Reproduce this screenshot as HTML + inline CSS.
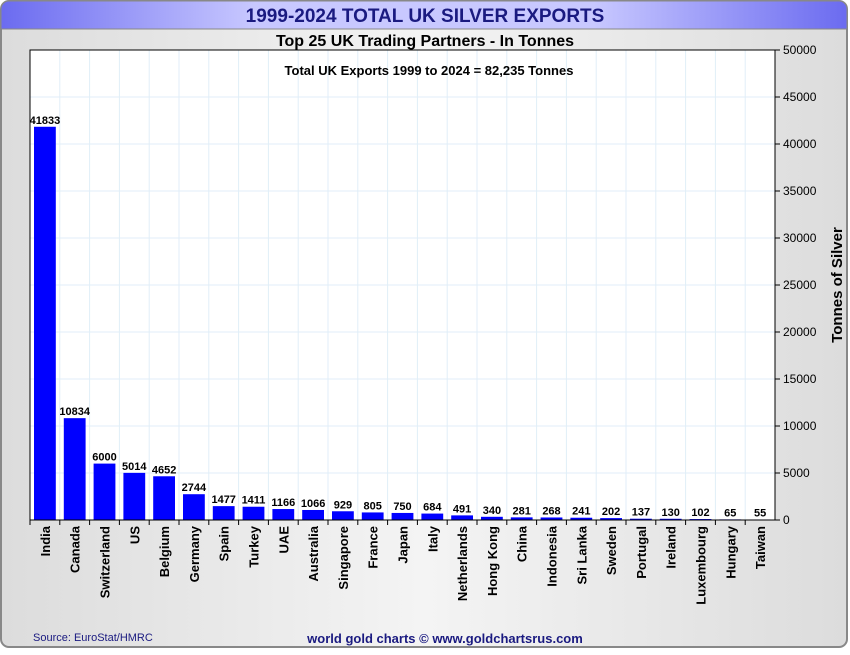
<!DOCTYPE html>
<html><head><meta charset="utf-8"><style>
body{margin:0;width:850px;height:650px;overflow:hidden;background:#fff;font-family:"Liberation Sans",sans-serif}
</style></head><body>
<svg id="c" width="850" height="650" xmlns="http://www.w3.org/2000/svg">
<defs>
<linearGradient id="tg" x1="0" x2="1" y1="0" y2="0">
<stop offset="0" stop-color="#6b6bf0"/><stop offset="0.3" stop-color="#c8c8ff"/><stop offset="0.7" stop-color="#c8c8ff"/><stop offset="1" stop-color="#6b6bf0"/></linearGradient>
<linearGradient id="bg" x1="0" x2="1" y1="0" y2="0">
<stop offset="0" stop-color="#dcdcdc"/><stop offset="0.5" stop-color="#f4f4f4"/><stop offset="1" stop-color="#dcdcdc"/></linearGradient>
</defs>
<rect x="1" y="1" width="846" height="646" rx="8" fill="url(#bg)" stroke="#888" stroke-width="2"/>
<path d="M1,29 V9 A8,8 0 0 1 9,1 H839 A8,8 0 0 1 847,9 V29 Z" fill="url(#tg)" stroke="#888"/>
<text x="425" y="22" text-anchor="middle" font-size="19" font-weight="bold" fill="#1a1a80">1999-2024 TOTAL UK SILVER EXPORTS</text>
<text x="425" y="46" text-anchor="middle" font-size="16" font-weight="bold" fill="#000">Top 25 UK Trading Partners - In Tonnes</text>
<rect x="30" y="50" width="745" height="470" fill="#fff"/>
<g id="grid"></g><g id="bars"></g><g id="axis"></g>
<rect x="30" y="50" width="745" height="470" fill="none" stroke="#000" stroke-width="1"/>
<text x="429" y="75" text-anchor="middle" font-size="13" font-weight="bold">Total UK Exports 1999 to 2024 = 82,235 Tonnes</text>
<text transform="translate(842,285) rotate(-90)" text-anchor="middle" font-size="15" font-weight="bold">Tonnes of Silver</text>
<text x="33" y="641" font-size="11" fill="#1a1a80">Source: EuroStat/HMRC</text>
<text x="445" y="643" text-anchor="middle" font-size="13" font-weight="bold" fill="#1a1a80">world gold charts © www.goldchartsrus.com</text>
</svg>
<script>
const categories=["India","Canada","Switzerland","US","Belgium","Germany","Spain","Turkey","UAE","Australia","Singapore","France","Japan","Italy","Netherlands","Hong Kong","China","Indonesia","Sri Lanka","Sweden","Portugal","Ireland","Luxembourg","Hungary","Taiwan"];
const values=[41833,10834,6000,5014,4652,2744,1477,1411,1166,1066,929,805,750,684,491,340,281,268,241,202,137,130,102,65,55];
const yTicks=[0,5000,10000,15000,20000,25000,30000,35000,40000,45000,50000];
const NS="http://www.w3.org/2000/svg";
const L=30,R=775,T=50,B=520,yMax=50000;
const bw=(R-L)/categories.length;
const x=i=>L+i*bw;
const y=v=>B-(v/yMax)*(B-T);
function mk(t,a,p,txt){const e=document.createElementNS(NS,t);for(const k in a)e.setAttribute(k,a[k]);if(txt!==undefined)e.textContent=txt;p.appendChild(e);return e;}
const grid=document.getElementById('grid'),bars=document.getElementById('bars'),axis=document.getElementById('axis');
yTicks.forEach(t=>{
  const g=mk('line',{x1:L,x2:R,y1:y(t),y2:y(t),stroke:'#e0eef8'},grid);
  
  
  const tk=mk('line',{x1:R,x2:R+5,y1:y(t),y2:y(t),stroke:'#000'},axis);
  
  
  const lb=mk('text',{x:R+8,y:y(t)+4,'font-size':12},axis,String(t));
  
  
});
categories.forEach((c,i)=>{
  const g=mk('line',{x1:x(i),x2:x(i),y1:T,y2:B,stroke:'#e0eef8'},grid);
  
  
  const v=values[i];
  const r=mk('rect',{x:x(i)+4,y:y(v),width:bw-8,height:B-y(v),fill:'#0000ff'},bars);
  
  
  const vl=mk('text',{x:x(i)+bw/2,y:y(v)-3,'text-anchor':'middle','font-size':11,'font-weight':'bold'},bars,String(v));
  
  
  const tk=mk('line',{x1:x(i),x2:x(i),y1:B,y2:B+5,stroke:'#000'},axis);
  
  
  const cx=x(i)+bw/2+5;
  const cl=mk('text',{x:0,y:0,transform:`translate(${cx},${B+6}) rotate(-90)`,'text-anchor':'end','font-size':13,'font-weight':'bold'},axis,c);
  
  
});
mk('line',{x1:L,x2:R,y1:B,y2:B,stroke:'#000'},axis);
</script>
</body></html>
